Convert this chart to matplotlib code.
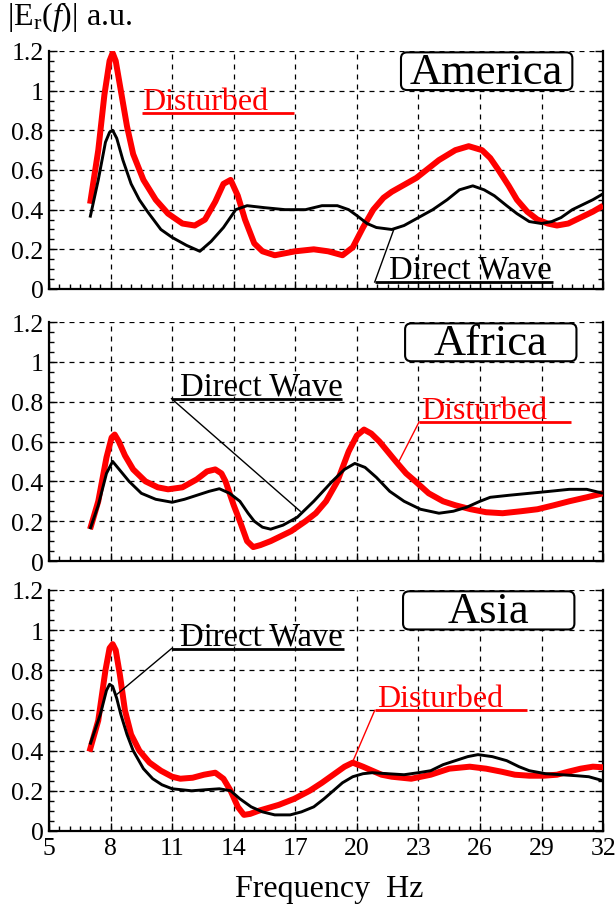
# Spectra |Er(f)| for three regions: direct wave vs disturbed signal
import numpy as np
import matplotlib
matplotlib.use("Agg")
import matplotlib.pyplot as plt
from matplotlib.patches import FancyBboxPatch
from matplotlib.ticker import MultipleLocator, FixedLocator, FixedFormatter

# ------------------------ data ------------------------
america_dist_f = [7.0, 7.4, 7.7, 7.95, 8.1, 8.25, 8.5, 8.8, 9.1, 9.6, 10.2, 10.8, 11.5, 12.1, 12.6,
                  13.1, 13.5, 13.85, 14.2, 14.55, 15.0, 15.4, 16.0, 17.0, 17.9, 18.6, 19.3, 19.8,
                  20.3, 20.8, 21.3, 21.7, 22.9, 24.0, 24.8, 25.45, 26.1, 26.5, 26.9, 27.4, 27.8,
                  28.3, 28.8, 29.3, 29.75, 30.3, 30.9, 31.5, 32.0]
america_dist_v = [0.43, 0.70, 0.98, 1.15, 1.19, 1.15, 1.00, 0.82, 0.68, 0.55, 0.45, 0.38, 0.33, 0.32,
                  0.35, 0.44, 0.53, 0.55, 0.47, 0.35, 0.23, 0.19, 0.17, 0.19, 0.20, 0.19, 0.17,
                  0.21, 0.31, 0.40, 0.46, 0.49, 0.56, 0.65, 0.70, 0.72, 0.70, 0.66, 0.60, 0.52,
                  0.45, 0.39, 0.35, 0.33, 0.32, 0.33, 0.36, 0.39, 0.42]
america_dir_f = [7.0, 7.4, 7.75, 7.95, 8.1, 8.3, 8.6, 9.0, 9.4, 9.8, 10.45, 11.0, 11.7, 12.35, 12.9,
                 13.5, 14.1, 14.65, 15.5, 16.5, 17.5, 18.3, 19.05, 19.6, 20.0, 20.5, 20.95, 21.7,
                 22.3, 23.0, 23.7, 24.4, 25.0, 25.65, 26.2, 26.7, 27.3, 27.8, 28.4, 29.0, 29.5,
                 29.95, 30.5, 30.9, 31.5, 32.0]
america_dir_v = [0.36, 0.55, 0.74, 0.79, 0.80, 0.76, 0.65, 0.53, 0.45, 0.39, 0.30, 0.26, 0.22, 0.19,
                 0.24, 0.31, 0.40, 0.42, 0.41, 0.40, 0.40, 0.42, 0.42, 0.40, 0.37, 0.33, 0.31,
                 0.30, 0.32, 0.36, 0.40, 0.45, 0.50, 0.52, 0.50, 0.47, 0.42, 0.38, 0.34, 0.33,
                 0.34, 0.36, 0.40, 0.42, 0.45, 0.48]

africa_dist_f = [7.0, 7.4, 7.8, 8.05, 8.2, 8.4, 8.7, 9.1, 9.7, 10.3, 10.8, 11.5, 12.2, 12.7, 13.1,
                 13.4, 13.6, 14.0, 14.3, 14.65, 14.95, 15.3, 15.8, 16.8, 17.5, 18.0, 18.5, 19.05,
                 19.6, 20.0, 20.35, 20.7, 21.1, 21.5, 21.9, 22.4, 22.85, 23.5, 24.2, 24.8, 25.55,
                 26.3, 27.1, 28.0, 28.8, 29.6, 30.35, 31.2, 32.0]
africa_dist_v = [0.16, 0.30, 0.52, 0.62, 0.635, 0.60, 0.53, 0.46, 0.40, 0.37, 0.36, 0.37, 0.41, 0.45,
                 0.46, 0.44, 0.40, 0.28, 0.20, 0.10, 0.07, 0.08, 0.10, 0.15, 0.20, 0.24, 0.30,
                 0.40, 0.55, 0.63, 0.66, 0.64, 0.60, 0.55, 0.50, 0.44, 0.40, 0.34, 0.30, 0.28,
                 0.26, 0.245, 0.24, 0.25, 0.26, 0.28, 0.30, 0.32, 0.34]
africa_dir_f = [7.0, 7.4, 7.8, 8.1, 8.5, 8.9, 9.5, 10.2, 11.0, 11.6, 12.2, 12.8, 13.3, 13.8, 14.3,
                14.7, 15.0, 15.4, 15.8, 16.4, 17.1, 17.9, 18.8, 19.4, 19.9, 20.4, 20.95, 21.6,
                22.3, 23.1, 24.0, 24.7, 25.35, 26.0, 26.5, 27.4, 28.4, 29.4, 30.35, 31.2, 32.0]
africa_dir_v = [0.16, 0.28, 0.44, 0.50, 0.45, 0.40, 0.34, 0.31, 0.295, 0.31, 0.33, 0.35, 0.363, 0.34,
                0.30, 0.24, 0.20, 0.17, 0.16, 0.18, 0.22, 0.30, 0.40, 0.46, 0.49, 0.47, 0.42, 0.35,
                0.30, 0.26, 0.24, 0.25, 0.27, 0.30, 0.32, 0.33, 0.34, 0.35, 0.36, 0.36, 0.34]

asia_dist_f = [6.97, 7.4, 7.75, 7.95, 8.1, 8.25, 8.45, 8.7, 9.0, 9.4, 9.9, 10.45, 11.0, 11.4, 12.0,
               12.55, 13.1, 13.5, 13.85, 14.2, 14.5, 14.8, 15.2, 16.2, 16.95, 17.7, 18.3, 18.85,
               19.4, 19.8, 20.3, 20.75, 21.2, 21.7, 22.65, 23.6, 24.5, 25.5, 26.3, 27.05, 27.7,
               28.4, 29.1, 29.75, 30.3, 30.9, 31.5, 32.0]
asia_dist_v = [0.395, 0.55, 0.80, 0.91, 0.93, 0.90, 0.78, 0.60, 0.48, 0.40, 0.34, 0.30, 0.27, 0.26,
               0.265, 0.28, 0.29, 0.26, 0.20, 0.12, 0.08, 0.085, 0.10, 0.13, 0.16, 0.20, 0.24,
               0.28, 0.32, 0.34, 0.32, 0.30, 0.28, 0.27, 0.26, 0.28, 0.31, 0.32, 0.31, 0.295,
               0.28, 0.275, 0.275, 0.28, 0.295, 0.31, 0.32, 0.317]
asia_dir_f = [7.0, 7.5, 7.8, 7.95, 8.1, 8.3, 8.5, 8.8, 9.1, 9.6, 10.05, 10.5, 11.0, 11.95, 12.6, 13.3,
              13.85, 14.3, 14.85, 15.4, 16.0, 16.75, 17.3, 17.9, 18.4, 18.85, 19.3, 19.8, 20.3,
              20.75, 21.5, 22.3, 23.0, 23.6, 24.2, 24.8, 25.4, 25.9, 26.6, 27.3, 27.9, 28.4, 29.2,
              29.95, 30.7, 31.3, 32.0]
asia_dir_v = [0.43, 0.58, 0.70, 0.73, 0.72, 0.66, 0.58, 0.48, 0.40, 0.31, 0.26, 0.23, 0.21, 0.20,
              0.205, 0.21, 0.20, 0.16, 0.12, 0.095, 0.08, 0.08, 0.095, 0.12, 0.16, 0.20, 0.24,
              0.27, 0.285, 0.29, 0.285, 0.28, 0.29, 0.30, 0.33, 0.35, 0.37, 0.38, 0.37, 0.35,
              0.32, 0.30, 0.285, 0.28, 0.275, 0.27, 0.25]

regions = ["America", "Africa", "Asia"]
x_ticks = [5, 8, 11, 14, 17, 20, 23, 26, 29, 32]
y_ticks = [0, 0.2, 0.4, 0.6, 0.8, 1.0, 1.2]
y_tick_labels = ["0", "0.2", "0.4", "0.6", "0.8", "1", "1.2"]

# ------------------------ fonts ------------------------
plt.rcParams["font.family"] = ["Liberation Serif", "DejaVu Serif"]
plt.rcParams["mathtext.fontset"] = "custom"
plt.rcParams["mathtext.rm"] = "Liberation Serif"
plt.rcParams["mathtext.it"] = "Liberation Serif:italic"

fig = plt.figure(figsize=(6.15, 9.2), dpi=100)

# axes boxes in figure fractions (left, bottom, width, height)
ax_rects = [(0.0797, 0.6848, 0.901, 0.2587),
            (0.0797, 0.3891, 0.901, 0.2598),
            (0.0797, 0.0957, 0.901, 0.2620)]

series = [(america_dir_f, america_dir_v, america_dist_f, america_dist_v),
          (africa_dir_f, africa_dir_v, africa_dist_f, africa_dist_v),
          (asia_dir_f, asia_dir_v, asia_dist_f, asia_dist_v)]

# label placement per panel: region box (x0, x1), Direct Wave / Disturbed
# each label: text x, underline y, underline x0, x1, leader end (x, y) or None
box_x = [(22.15, 30.5), (22.35, 30.7), (22.25, 30.6)]
direct_lbl = [(21.55, 0.035, 20.87, 29.57, (21.8, 0.30)),
              (11.4, 0.815, 10.97, 19.3, (17.24, 0.25)),
              (11.4, 0.908, 10.97, 19.38, (8.25, 0.675))]
dist_lbl = [(9.55, 0.887, 9.55, 16.95, None),
            (23.15, 0.698, 23.03, 30.43, (22.0, 0.49)),
            (21.0, 0.60, 20.87, 28.27, (19.82, 0.35))]

for i, rect in enumerate(ax_rects):
    ax = fig.add_axes(rect)
    fd, vd, fs, vs = series[i]

    # curves: red disturbed (thick), black direct wave on top
    ax.plot(fs, vs, color="#ff0000", lw=4.3, solid_joinstyle="round", solid_capstyle="butt", zorder=3)
    ax.plot(fd, vd, color="black", lw=2.1, solid_joinstyle="round", solid_capstyle="butt", zorder=4)

    ax.set_xlim(5, 32)
    ax.set_ylim(0, 1.2)
    ax.xaxis.set_major_locator(FixedLocator(x_ticks))
    ax.xaxis.set_minor_locator(MultipleLocator(0.5))
    ax.yaxis.set_major_locator(FixedLocator(y_ticks))
    ax.yaxis.set_major_formatter(FixedFormatter(y_tick_labels))
    ax.yaxis.set_minor_locator(MultipleLocator(0.05))
    ax.tick_params(which="both", direction="in", left=True, right=True, top=False, bottom=True,
                   width=1.0, labelsize=18.5, pad=4)
    ax.tick_params(which="major", length=6)
    ax.tick_params(which="minor", length=3.5)
    if i < 2:
        ax.tick_params(labelbottom=False)

    ax.grid(True, which="major", color="black", ls=(0, (4, 4)), lw=0.9)
    ax.spines["top"].set_visible(False)
    for s in ["left", "right", "bottom"]:
        ax.spines[s].set_linewidth(1.6)

    # region name in a rounded box
    bx0, bx1 = box_x[i]
    box = FancyBboxPatch((bx0, 1.003), bx1 - bx0, 0.19,
                         boxstyle="round,pad=0,rounding_size=0.3", mutation_aspect=0.1,
                         facecolor="white", edgecolor="black", lw=1.5, zorder=5)
    ax.add_patch(box)
    ax.text((bx0 + bx1) / 2, 1.095, regions[i], fontsize=32, ha="center", va="center", zorder=6)

    # Direct Wave label
    tx, uy, ux0, ux1, lead = direct_lbl[i]
    ax.annotate("Direct Wave", xy=(tx, uy), xytext=(0, 3), textcoords="offset points",
                fontsize=23.5, ha="left", va="baseline", zorder=6)
    ax.plot([ux0, ux1], [uy, uy], color="black", lw=2.0, solid_capstyle="butt", zorder=6, clip_on=False)
    if lead is not None:
        ax.plot([ux0, lead[0]], [uy, lead[1]], color="black", lw=1.0, zorder=6)

    # Disturbed label
    tx, uy, ux0, ux1, lead = dist_lbl[i]
    ax.annotate("Disturbed", xy=(tx, uy), xytext=(0, 3), textcoords="offset points",
                fontsize=23, color="#ff0000", ha="left", va="baseline", zorder=6)
    ax.plot([ux0, ux1], [uy, uy], color="#ff0000", lw=2.0, solid_capstyle="butt", zorder=6)
    if lead is not None:
        ax.plot([ux0, lead[0]], [uy, lead[1]], color="#ff0000", lw=1.0, zorder=6)

# axis titles
fig.text(0.012, 0.981, r"|E$_\mathrm{r}$($f$)| a.u.", fontsize=23, ha="left", va="center")
fig.text(0.535, 0.033, "Frequency  Hz", fontsize=23, ha="center", va="center")

fig.savefig("out.png", dpi=100)
